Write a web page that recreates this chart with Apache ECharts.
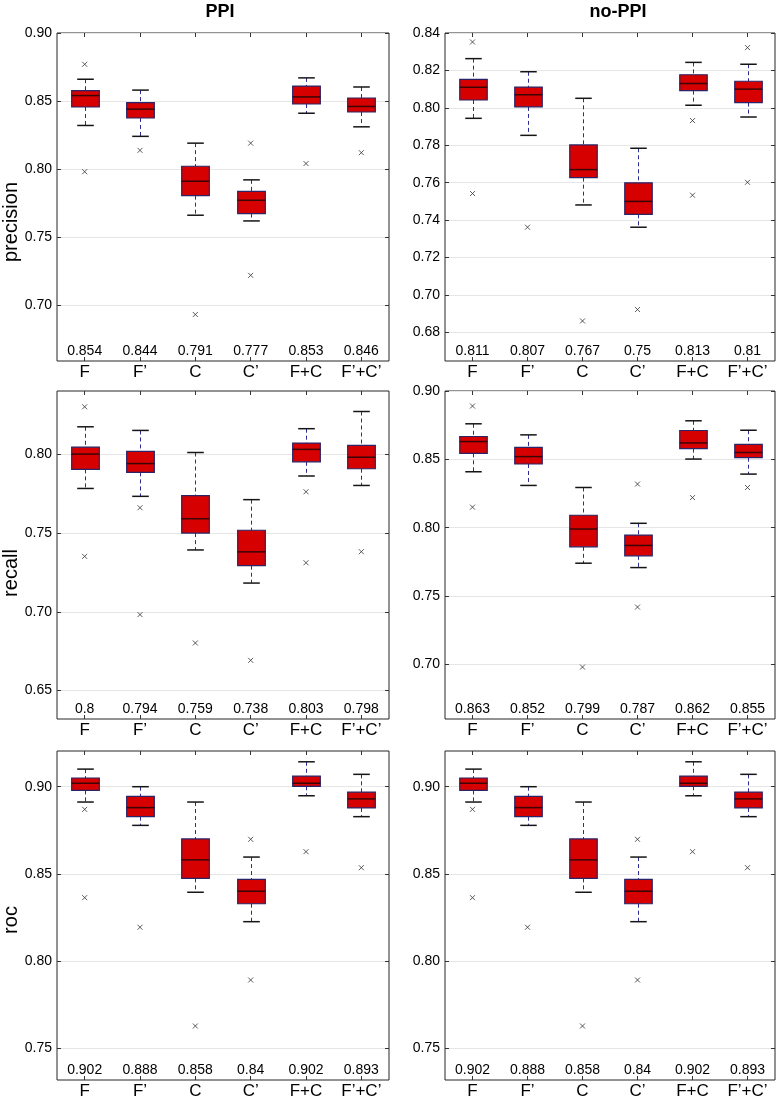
<!DOCTYPE html>
<html><head><meta charset="utf-8">
<script src="https://cdn.jsdelivr.net/npm/echarts@6/dist/echarts.min.js"></script>
<style>html,body{margin:0;padding:0;background:#fff}#c{width:782px;height:1101px}</style>
</head><body><div id="c"></div><script>
// Categories
const categories = ['F', 'F\u2019', 'C', 'C\u2019', 'F+C', 'F\u2019+C\u2019'];

// Box data per category: [whisker low, Q1, median, Q3, whisker high]
const ppiPrecisionBox = [
  [0.832, 0.8456, 0.854, 0.8576, 0.866],
  [0.824, 0.8375, 0.844, 0.8488, 0.858],
  [0.766, 0.7804, 0.791, 0.802, 0.819],
  [0.7618, 0.7672, 0.777, 0.7836, 0.792],
  [0.841, 0.8478, 0.853, 0.861, 0.867],
  [0.831, 0.8419, 0.846, 0.8522, 0.8603]
];
const ppiPrecisionOutliers = [[0,0.877],[0,0.798],[1,0.8137],[2,0.693],[3,0.819],[3,0.7218],[4,0.804],[5,0.812]];

const noPpiPrecisionBox = [
  [0.7944, 0.8042, 0.811, 0.8152, 0.8263],
  [0.7853, 0.8005, 0.807, 0.8111, 0.8193],
  [0.7481, 0.7627, 0.767, 0.7802, 0.8051],
  [0.7362, 0.7431, 0.75, 0.7599, 0.7784],
  [0.8014, 0.8092, 0.813, 0.8177, 0.8243],
  [0.7951, 0.8028, 0.81, 0.8142, 0.8233]
];
const noPpiPrecisionOutliers = [[0,0.8352],[0,0.7542],[1,0.7362],[2,0.6861],[3,0.6922],[4,0.7932],[4,0.7533],[5,0.8322],[5,0.7602]];

const ppiRecallBox = [
  [0.7782, 0.7903, 0.8, 0.8044, 0.8173],
  [0.7732, 0.7884, 0.794, 0.8017, 0.815],
  [0.7392, 0.7499, 0.759, 0.7736, 0.801],
  [0.7182, 0.7292, 0.738, 0.7517, 0.7711],
  [0.7861, 0.7951, 0.803, 0.807, 0.8161],
  [0.7801, 0.7907, 0.798, 0.8055, 0.827]
];
const ppiRecallOutliers = [[0,0.83],[0,0.7351],[1,0.766],[1,0.6982],[2,0.6802],[3,0.6692],[4,0.7761],[4,0.7311],[5,0.7381]];

const noPpiRecallBox = [
  [0.8409, 0.8544, 0.863, 0.8667, 0.876],
  [0.8309, 0.8466, 0.852, 0.8588, 0.8679],
  [0.774, 0.786, 0.799, 0.8091, 0.8294],
  [0.7708, 0.7794, 0.787, 0.7946, 0.8032],
  [0.8502, 0.8578, 0.862, 0.8711, 0.8782],
  [0.8392, 0.8512, 0.855, 0.861, 0.8713]
];
const noPpiRecallOutliers = [[0,0.889],[0,0.815],[2,0.698],[3,0.8319],[3,0.7419],[4,0.822],[5,0.8294]];

const ppiRocBox = [
  [0.8912, 0.8979, 0.902, 0.905, 0.9101],
  [0.8778, 0.8828, 0.888, 0.8945, 0.90],
  [0.8394, 0.8474, 0.858, 0.870, 0.8912],
  [0.8225, 0.8328, 0.84, 0.8468, 0.8596],
  [0.8948, 0.9002, 0.902, 0.9061, 0.9143],
  [0.8828, 0.8878, 0.893, 0.8969, 0.9071]
];
const ppiRocOutliers = [[0,0.887],[0,0.8363],[1,0.8193],[2,0.7626],[3,0.8698],[3,0.789],[4,0.8627],[5,0.8535]];

const noPpiRocBox = [
  [0.8912, 0.8979, 0.902, 0.905, 0.9101],
  [0.8778, 0.8828, 0.888, 0.8945, 0.90],
  [0.8394, 0.8474, 0.858, 0.870, 0.8912],
  [0.8225, 0.8328, 0.84, 0.8468, 0.8596],
  [0.8948, 0.9002, 0.902, 0.9061, 0.9143],
  [0.8828, 0.8878, 0.893, 0.8969, 0.9071]
];
const noPpiRocOutliers = [[0,0.887],[0,0.8363],[1,0.8193],[2,0.7626],[3,0.8698],[3,0.789],[4,0.8627],[5,0.8535]];

// Tick values
const ticksPpiPrecision = [0.70, 0.75, 0.80, 0.85, 0.90];
const ticksNoPpiPrecision = [0.68, 0.70, 0.72, 0.74, 0.76, 0.78, 0.80, 0.82, 0.84];
const ticksPpiRecall = [0.65, 0.70, 0.75, 0.80];
const ticksNoPpiRecall = [0.70, 0.75, 0.80, 0.85, 0.90];
const ticksRoc = [0.75, 0.80, 0.85, 0.90];

const columnTitles = ['PPI', 'no-PPI'];
const rowNames = ['precision', 'recall', 'roc'];

const FONT = '"Liberation Sans", Arial, Helvetica, sans-serif';
const X_PATH = 'path://M0,0L10,10M10,0L0,10';

const L = {left: 57, width: 332}, R = {left: 445, width: 330};
const rows = [{top: 33, height: 328}, {top: 391, height: 328}, {top: 751, height: 329}];

const panels = [
  {col: L, row: rows[0], box: ppiPrecisionBox, out: ppiPrecisionOutliers, min: 0.6588, max: 0.90, ticks: ticksPpiPrecision},
  {col: R, row: rows[0], box: noPpiPrecisionBox, out: noPpiPrecisionOutliers, min: 0.6647, max: 0.84, ticks: ticksNoPpiPrecision},
  {col: L, row: rows[1], box: ppiRecallBox, out: ppiRecallOutliers, min: 0.632, max: 0.84, ticks: ticksPpiRecall},
  {col: R, row: rows[1], box: noPpiRecallBox, out: noPpiRecallOutliers, min: 0.66, max: 0.90, ticks: ticksNoPpiRecall},
  {col: L, row: rows[2], box: ppiRocBox, out: ppiRocOutliers, min: 0.7316, max: 0.9205, ticks: ticksRoc},
  {col: R, row: rows[2], box: noPpiRocBox, out: noPpiRocOutliers, min: 0.7316, max: 0.9205, ticks: ticksRoc}
];

function renderBox(params, api) {
  const idx = api.value(0);
  const lo = api.coord([idx, api.value(1)]);
  const q1 = api.coord([idx, api.value(2)]);
  const md = api.coord([idx, api.value(3)]);
  const q3 = api.coord([idx, api.value(4)]);
  const hi = api.coord([idx, api.value(5)]);
  const band = api.size([1, 0])[0];
  const bw = band * 0.5, cw = band * 0.3;
  const x = Math.round(lo[0]) + 0.5;
  const dash = {stroke: '#2c2c96', lineWidth: 1, lineDash: [4, 3]};
  const cap = {stroke: '#151515', lineWidth: 1.5};
  return {type: 'group', children: [
    {type: 'line', shape: {x1: x, y1: hi[1], x2: x, y2: q3[1]}, style: dash},
    {type: 'line', shape: {x1: x, y1: q1[1], x2: x, y2: lo[1]}, style: dash},
    {type: 'line', shape: {x1: x - cw / 2, y1: hi[1], x2: x + cw / 2, y2: hi[1]}, style: cap},
    {type: 'line', shape: {x1: x - cw / 2, y1: lo[1], x2: x + cw / 2, y2: lo[1]}, style: cap},
    {type: 'rect', shape: {x: x - bw / 2, y: q3[1], width: bw, height: q1[1] - q3[1]},
      style: {fill: '#d60000', stroke: '#2a2468', lineWidth: 1.2}},
    {type: 'line', shape: {x1: x - bw / 2, y1: md[1], x2: x + bw / 2, y2: md[1]},
      style: {stroke: '#3a0505', lineWidth: 1.5}}
  ]};
}

const grids = [], xAxes = [], yAxes = [], series = [];
panels.forEach((p, i) => {
  grids.push({left: p.col.left, width: p.col.width, top: p.row.top, height: p.row.height,
    show: true, borderColor: '#262626', borderWidth: 1, backgroundColor: 'transparent'});
  const xb = xAxes.length, yb = yAxes.length;
  const tickStyle = {color: '#333', width: 1};
  xAxes.push({type: 'category', gridIndex: i, data: categories, position: 'bottom',
    axisLine: {show: false, onZero: false},
    axisTick: {show: true, inside: true, alignWithLabel: true, length: 4, lineStyle: tickStyle},
    axisLabel: {color: '#000', fontSize: 17, fontFamily: FONT, margin: 3, interval: 0},
    splitLine: {show: false}});
  xAxes.push({type: 'category', gridIndex: i, data: categories, position: 'top',
    axisLine: {show: false, onZero: false},
    axisTick: {show: true, inside: true, alignWithLabel: true, length: 4, lineStyle: tickStyle},
    axisLabel: {show: false}, splitLine: {show: false}});
  const medians = p.box.map(b => b[2]);
  xAxes.push({type: 'category', gridIndex: i, data: categories, position: 'bottom',
    axisLine: {show: false, onZero: false}, axisTick: {show: false},
    axisLabel: {inside: true, margin: 3, fontSize: 14, color: '#000', fontFamily: FONT, interval: 0,
      formatter: (v, idx) => String(medians[idx])},
    splitLine: {show: false}});
  yAxes.push({type: 'value', gridIndex: i, min: p.min, max: p.max, position: 'left',
    axisLine: {show: false},
    axisTick: {show: true, inside: true, length: 4, customValues: p.ticks, lineStyle: tickStyle},
    axisLabel: {customValues: p.ticks, formatter: v => v.toFixed(2), fontSize: 14, color: '#000',
      fontFamily: FONT, margin: 5},
    splitLine: {show: true, lineStyle: {color: '#e6e6e6', width: 1}}});
  yAxes.push({type: 'value', gridIndex: i, min: p.min, max: p.max, position: 'right',
    axisLine: {show: false},
    axisTick: {show: true, inside: true, length: 4, customValues: p.ticks, lineStyle: tickStyle},
    axisLabel: {show: false}, splitLine: {show: false}});
  series.push({type: 'custom', xAxisIndex: xb, yAxisIndex: yb, renderItem: renderBox,
    data: p.box.map((b, k) => [k].concat(b)), encode: {x: 0, y: [1, 2, 3, 4, 5]}, z: 3, silent: true});
  series.push({type: 'scatter', xAxisIndex: xb, yAxisIndex: yb, data: p.out, symbol: X_PATH,
    symbolSize: 5, itemStyle: {color: 'rgba(0,0,0,0)', borderColor: '#333', borderWidth: 1}, z: 4, silent: true});
});

const graphics = [
  {type: 'text', x: 220, y: 12, style: {text: columnTitles[0], font: 'bold 18px ' + FONT, fill: '#000', align: 'center', verticalAlign: 'middle', textAlign: 'center', textVerticalAlign: 'middle'}},
  {type: 'text', x: 618, y: 12, style: {text: columnTitles[1], font: 'bold 18px ' + FONT, fill: '#000', align: 'center', verticalAlign: 'middle', textAlign: 'center', textVerticalAlign: 'middle'}},
  {type: 'text', x: 11, y: 222, rotation: Math.PI / 2, style: {text: rowNames[0], font: '20px ' + FONT, fill: '#000', align: 'center', verticalAlign: 'middle', textAlign: 'center', textVerticalAlign: 'middle'}},
  {type: 'text', x: 11, y: 573, rotation: Math.PI / 2, style: {text: rowNames[1], font: '20px ' + FONT, fill: '#000', align: 'center', verticalAlign: 'middle', textAlign: 'center', textVerticalAlign: 'middle'}},
  {type: 'text', x: 11, y: 920, rotation: Math.PI / 2, style: {text: rowNames[2], font: '20px ' + FONT, fill: '#000', align: 'center', verticalAlign: 'middle', textAlign: 'center', textVerticalAlign: 'middle'}}
];

const chart = echarts.init(document.getElementById('c'), null, {renderer: 'canvas'});
chart.setOption({
  backgroundColor: '#fff',
  animation: false,
  grid: grids, xAxis: xAxes, yAxis: yAxes, series: series, graphic: graphics
});
</script></body></html>
